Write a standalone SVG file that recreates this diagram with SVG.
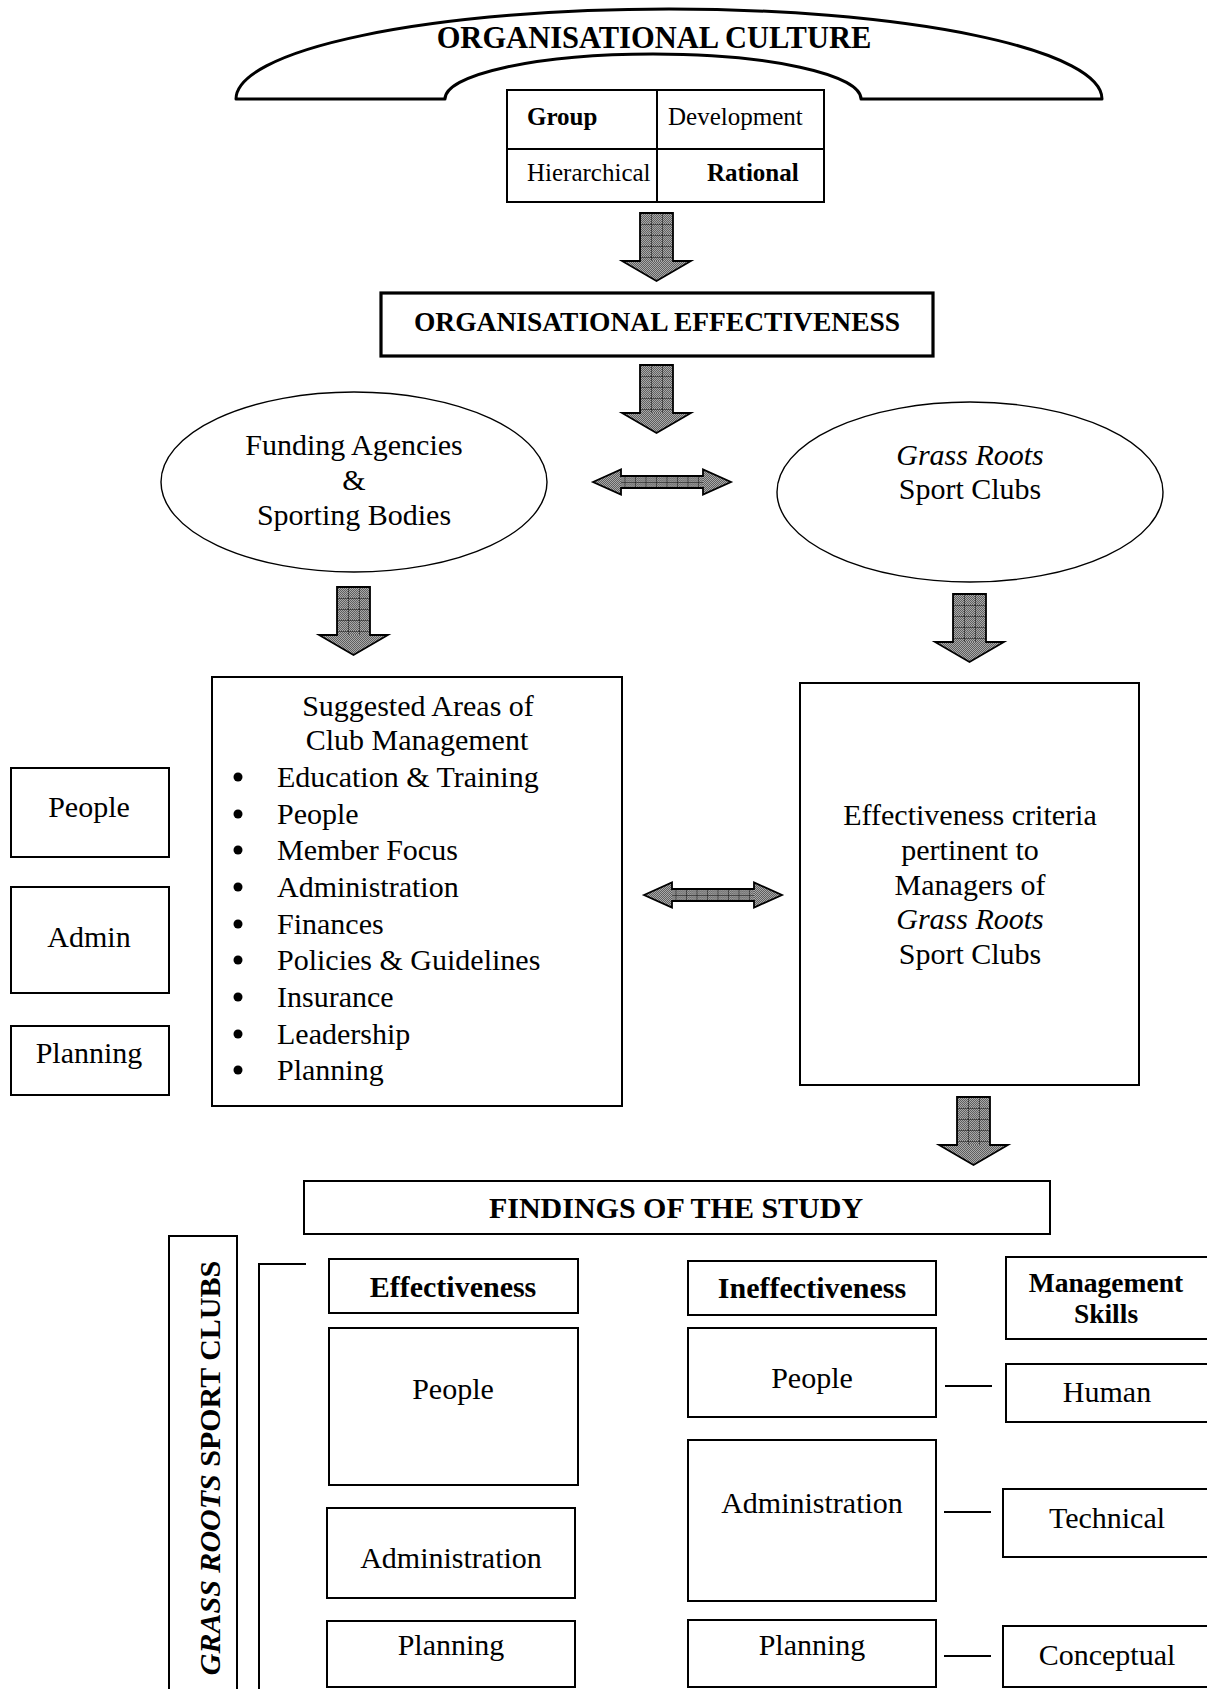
<svg xmlns="http://www.w3.org/2000/svg" width="1207" height="1689" viewBox="0 0 1207 1689">
  <style>
    text { font-family: "Liberation Serif", "Times New Roman", serif; fill: #000; }
    .t30 { font-size: 30px; }
    .t25 { font-size: 25px; }
    .b { font-weight: bold; }
    .i { font-style: italic; }
    .mid { text-anchor: middle; }
    .box { fill: #fff; stroke: #000; stroke-width: 2; }
    .thick { fill: #fff; stroke: #000; stroke-width: 3.2; }
    .oval { fill: #fff; stroke: #000; stroke-width: 1.4; }
    .line { stroke: #000; stroke-width: 2; fill: none; }
    .arrow { fill: url(#dots); stroke: none; }
    .arrow-edge { fill: none; stroke: #000; stroke-width: 1.8; stroke-linejoin: miter; }
  </style>
  <defs>
    <!-- fine dithered grey used inside block arrows -->
    <pattern id="dots" width="2" height="2" patternUnits="userSpaceOnUse">
      <rect width="2" height="2" fill="#a9a9a9"/>
      <rect width="1" height="1" fill="#5f5f5f"/>
      <rect x="1" y="1" width="1" height="1" fill="#5f5f5f"/>
    </pattern>
    <!-- grid for the arrow shafts -->
    <pattern id="grid" width="11" height="11" patternUnits="userSpaceOnUse">
      <rect width="11" height="11" fill="url(#dots)"/>
      <path d="M0,0 H11 M0,0 V11" stroke="#111" stroke-width="1" fill="none"/>
    </pattern>
    <pattern id="hgrid" width="10.5" height="6" patternUnits="userSpaceOnUse">
      <rect width="10.5" height="6" fill="url(#dots)"/>
      <path d="M0,0 H10.5 M0,0 V6" stroke="#111" stroke-width="1" fill="none"/>
    </pattern>
    <!-- down block arrow, origin at top-left of the shaft -->
    <g id="down">
      <polygon class="arrow" points="0,0 33,0 33,48 51,48 16.5,68 -18,48 0,48"/>
      <rect x="0" y="0" width="33" height="48" fill="url(#grid)"/>
      <polygon class="arrow-edge" points="0,0 33,0 33,48 51,48 16.5,68 -18,48 0,48"/>
    </g>
    <!-- two-headed horizontal block arrow, origin at left tip -->
    <g id="both">
      <polygon class="arrow" points="0,0 28,-12.5 28,-6 110,-6 110,-12.5 138,0 110,12.5 110,6 28,6 28,12.5"/>
      <rect x="28" y="-6" width="82" height="12" fill="url(#hgrid)"/>
      <polygon class="arrow-edge" points="0,0 28,-12.5 28,-6 110,-6 110,-12.5 138,0 110,12.5 110,6 28,6 28,12.5"/>
    </g>
  </defs>

  <rect width="1207" height="1689" fill="#fff"/>

  <!-- culture arch -->
  <g id="culture">
    <path d="M236,99 A433,90 0 0 1 1102,99 L861,99 A208,45 0 0 0 445,99 Z" fill="#fff" stroke="#000" stroke-width="3" stroke-linejoin="round"/>
    <text class="b mid" style="font-size:30.5px" x="654" y="48">ORGANISATIONAL CULTURE</text>
  </g>

  <!-- competing values quadrants -->
  <g id="quadrants">
    <rect class="box" x="507" y="90" width="317" height="112"/>
    <line class="line" x1="657" y1="90" x2="657" y2="202"/>
    <line class="line" x1="507" y1="149" x2="824" y2="149"/>
    <text class="t25 b" x="527" y="125">Group</text>
    <text class="t25" x="668" y="125">Development</text>
    <text class="t25" x="527" y="181">Hierarchical</text>
    <text class="t25 b" x="707" y="181">Rational</text>
  </g>

  <g id="effectiveness">
    <rect class="thick" x="381" y="293" width="552" height="63"/>
    <text class="b mid" style="font-size:27.5px" x="657" y="331">ORGANISATIONAL EFFECTIVENESS</text>
  </g>

  <g id="funding">
    <ellipse class="oval" cx="354" cy="482" rx="193" ry="90"/>
    <text class="t30 mid" x="354" y="455">Funding Agencies</text>
    <text class="t30 mid" x="354" y="490">&amp;</text>
    <text class="t30 mid" x="354" y="525">Sporting Bodies</text>
  </g>

  <g id="clubs">
    <ellipse class="oval" cx="970" cy="492" rx="193" ry="90"/>
    <text class="t30 mid i" x="970" y="465">Grass Roots</text>
    <text class="t30 mid" x="970" y="499">Sport Clubs</text>
  </g>

  <g id="areas">
    <rect class="box" x="212" y="677" width="410" height="429"/>
    <text class="t30 mid" x="418" y="716">Suggested Areas of</text>
    <text class="t30 mid" x="417" y="750">Club Management</text>
    <g>
      <circle cx="238" cy="777" r="4.5"/>
      <circle cx="238" cy="814" r="4.5"/>
      <circle cx="238" cy="850" r="4.5"/>
      <circle cx="238" cy="887" r="4.5"/>
      <circle cx="238" cy="924" r="4.5"/>
      <circle cx="238" cy="960" r="4.5"/>
      <circle cx="238" cy="997" r="4.5"/>
      <circle cx="238" cy="1034" r="4.5"/>
      <circle cx="238" cy="1070" r="4.5"/>
    </g>
    <text class="t30" x="277" y="787">Education &amp; Training</text>
    <text class="t30" x="277" y="824">People</text>
    <text class="t30" x="277" y="860">Member Focus</text>
    <text class="t30" x="277" y="897">Administration</text>
    <text class="t30" x="277" y="934">Finances</text>
    <text class="t30" x="277" y="970">Policies &amp; Guidelines</text>
    <text class="t30" x="277" y="1007">Insurance</text>
    <text class="t30" x="277" y="1044">Leadership</text>
    <text class="t30" x="277" y="1080">Planning</text>
  </g>

  <g id="side-people">
    <rect class="box" x="11" y="768" width="158" height="89"/>
    <text class="t30 mid" x="89" y="817">People</text>
  </g>
  <g id="side-admin">
    <rect class="box" x="11" y="887" width="158" height="106"/>
    <text class="t30 mid" x="89" y="947">Admin</text>
  </g>
  <g id="side-planning">
    <rect class="box" x="11" y="1026" width="158" height="69"/>
    <text class="t30 mid" x="89" y="1063">Planning</text>
  </g>

  <g id="criteria">
    <rect class="box" x="800" y="683" width="339" height="402"/>
    <text class="t30 mid" x="970" y="825">Effectiveness criteria</text>
    <text class="t30 mid" x="970" y="860">pertinent to</text>
    <text class="t30 mid" x="970" y="895">Managers of</text>
    <text class="t30 mid i" x="970" y="929">Grass Roots</text>
    <text class="t30 mid" x="970" y="964">Sport Clubs</text>
  </g>

  <g id="findings">
    <rect class="box" x="304" y="1181" width="746" height="53"/>
    <text class="t30 b mid" x="676" y="1218">FINDINGS OF THE STUDY</text>
  </g>

  <g id="grass-roots-label">
    <rect class="box" x="169" y="1236" width="68" height="460"/>
    <text class="t30 b" transform="translate(220,1468) rotate(-90)" text-anchor="middle"><tspan class="i">GRASS ROOTS</tspan> SPORT CLUBS</text>
  </g>

  <g id="eff-head">
    <rect class="box" x="329" y="1259" width="249" height="54"/>
    <text class="t30 b mid" x="453" y="1297">Effectiveness</text>
  </g>
  <g id="eff-people">
    <rect class="box" x="329" y="1328" width="249" height="157"/>
    <text class="t30 mid" x="453" y="1399">People</text>
  </g>
  <g id="eff-admin">
    <rect class="box" x="327" y="1508" width="248" height="90"/>
    <text class="t30 mid" x="451" y="1568">Administration</text>
  </g>
  <g id="eff-planning">
    <rect class="box" x="327" y="1621" width="248" height="66"/>
    <text class="t30 mid" x="451" y="1655">Planning</text>
  </g>

  <g id="ineff-head">
    <rect class="box" x="688" y="1261" width="248" height="54"/>
    <text class="t30 b mid" x="812" y="1298">Ineffectiveness</text>
  </g>
  <g id="ineff-people">
    <rect class="box" x="688" y="1328" width="248" height="89"/>
    <text class="t30 mid" x="812" y="1388">People</text>
  </g>
  <g id="ineff-admin">
    <rect class="box" x="688" y="1440" width="248" height="161"/>
    <text class="t30 mid" x="812" y="1513">Administration</text>
  </g>
  <g id="ineff-planning">
    <rect class="box" x="688" y="1620" width="248" height="67"/>
    <text class="t30 mid" x="812" y="1655">Planning</text>
  </g>

  <g id="skills-head">
    <rect class="box" x="1006" y="1257" width="215" height="82"/>
    <text class="b mid" style="font-size:27.5px" x="1106" y="1292">Management</text>
    <text class="b mid" style="font-size:27.5px" x="1106" y="1323">Skills</text>
  </g>
  <g id="skill-human">
    <rect class="box" x="1006" y="1364" width="215" height="58"/>
    <text class="t30 mid" x="1107" y="1402">Human</text>
  </g>
  <g id="skill-technical">
    <rect class="box" x="1003" y="1489" width="218" height="68"/>
    <text class="t30 mid" x="1107" y="1528">Technical</text>
  </g>
  <g id="skill-conceptual">
    <rect class="box" x="1003" y="1626" width="218" height="61"/>
    <text class="t30 mid" x="1107" y="1665">Conceptual</text>
  </g>

  <!-- connectors -->
  <g id="connectors">
    <use href="#down" x="640" y="213"/>
    <use href="#down" x="640" y="365"/>
    <use href="#both" x="593" y="482"/>
    <use href="#down" x="337" y="587"/>
    <use href="#down" x="953" y="594"/>
    <use href="#both" x="644" y="895"/>
    <use href="#down" x="957" y="1097"/>
    <path class="line" d="M306,1264 H259 V1700"/>
    <line class="line" x1="945" y1="1386" x2="992" y2="1386"/>
    <line class="line" x1="944" y1="1512" x2="991" y2="1512"/>
    <line class="line" x1="944" y1="1656" x2="991" y2="1656"/>
  </g>
</svg>
